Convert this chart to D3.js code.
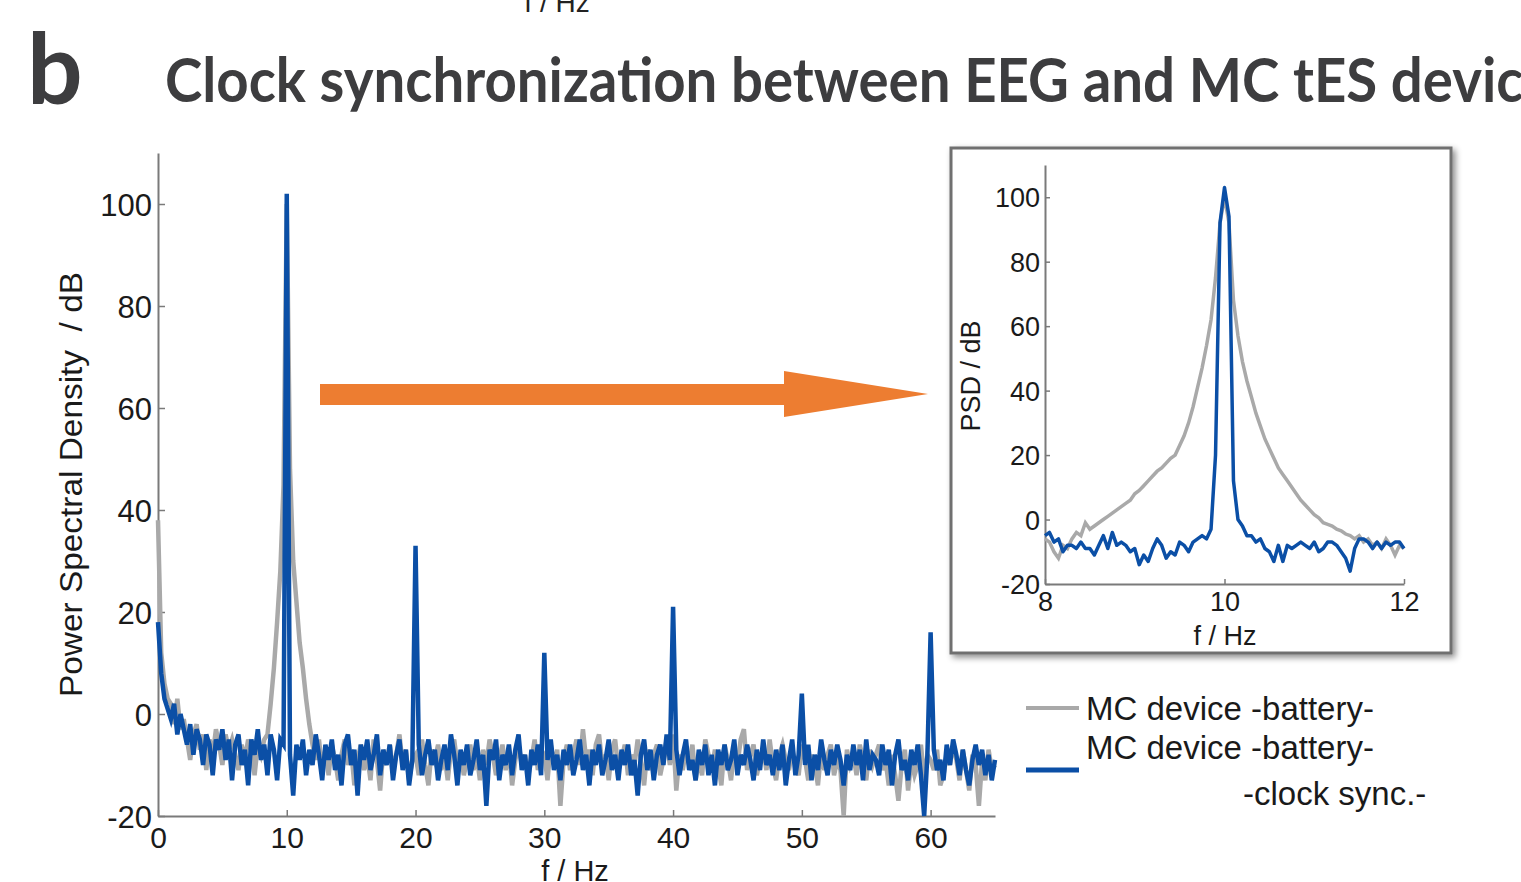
<!DOCTYPE html>
<html>
<head>
<meta charset="utf-8">
<script src="https://cdn.jsdelivr.net/npm/d3@7"></script>
<style>
  html, body { margin: 0; padding: 0; background: #fff; }
  svg { display: block; }
  .tick text { fill: #1a1a1a; }
</style>
</head>
<body>
<svg id="chart" width="1521" height="882"></svg>
<script>
// ---- data ----
// main panel: 0..65 Hz, 0.25 Hz bins, PSD in dB
const mainStep = 0.25;
const mainBattery = [
  38, 12, 6, 3,   2, -2, 3, -3,   -1, -5, -9, -4,   -2, -7, -4, -11,
  -5, -8, -3, -6,   -10, -4, -7, -5,   -8, -11, -6, -9,   -5, -7, -12, -6,
  -8, -5, -4, 2,   9, 18, 28, 45,   100, 48, 30, 22,   14, 9, 3, -2,
  -6, -9, -5, -11,   -7, -12, -6, -9,   -13, -8, -5, -10,   -7, -14, -9, -6,
  -11, -8, -13, -5,   -9, -15, -7, -10,   -6, -11, -8, -4,   -10, -7, -13, -9,
  -8, -12, -5, -10,   -14, -7, -9, -6,   -11, -8, -13, -7,   -5, -10, -8, -12,
  -9, -6, -11, -8,   -13, -7, -10, -5,   -8, -12, -9, -6,   -11, -7, -14, -9,
  -6, -10, -8, -12,   -9, -5, -11, -7,   -8, -13, -6, -10,   -7, -18, -9, -6,
  -11, -8, -5, -10,   -3, -9, -7, -12,   -6, -4, -10, -8,   -13, -7, -5, -11,
  -9, -6, -12, -8,   -10, -5, -9, -14,   -7, -11, -8, -6,   -12, -9, -5, -10,
  -4, -15, -8, -11,   -7, -10, -6, -13,   -9, -12, -5, -8,   -11, -7, -10, -14,
  -6, -9, -13, -7,   -10, -5, -3, -11,   -8, -6, -12, -9,   -7, -11, -5, -10,
  -13, -8, -6, -9,   -11, -7, -10, -12,   -6, -9, -13, -8,   -10, -14, -7, -11,
  -8, -6, -12, -9,   -11, -20, -7, -10,   -8, -12, -6, -9,   -13, -7, -10, -8,
  -6, -11, -9, -14,   -8, -12, -17, -10,   -7, -15, -9, -12,   -10, -6, -13, -8,
  -9, -11, -7, -14,   -12, -8, -10, -6,   -9, -13, -7, -11,   -15, -8, -10, -18,
  -9, -13, -7, -11,   -10
];
const mainClockSync = [
  18, 8, 3, 1,   -1, 2, -4, 0,   -3, -6, -2, -8,   -3, -5, -10, -4,
  -6, -12, -5, -7,   -3, -9, -5, -13,   -6, -4, -10, -7,   -14, -5, -8, -3,
  -9, -6, -12, -4,   -7, -13, -5, -6,   102, -8, -16, -6,   -9, -5, -12, -7,
  -10, -4, -8, -13,   -6, -9, -5, -11,   -8, -14, -6, -4,   -10, -7, -16, -6,
  -9, -5, -11, -8,   -4, -12, -7, -10,   -6, -13, -8, -5,   -11, -7, -14, -9,
  33, -6, -12, -8,   -5, -10, -7, -13,   -9, -6, -11, -4,   -8, -14, -7, -10,
  -6, -12, -9, -5,   -11, -8, -18, -7,   -9, -5, -13, -8,   -10, -6, -12, -7,
  -4, -11, -8, -14,   -7, -10, -6, -12,   12, -9, -5, -11,   -8, -13, -7, -10,
  -6, -12, -9, -5,   -11, -8, -14, -7,   -10, -6, -12, -9,   -5, -11, -8, -13,
  -7, -10, -6, -12,   -9, -16, -8, -5,   -11, -7, -13, -8,   -6, -10, -4, -9,
  21, -7, -12, -8,   -5, -11, -9, -13,   -7, -10, -6, -12,   -8, -14, -7, -10,
  -6, -11, -9, -5,   -12, -8, -10, -6,   -9, -13, -7, -11,   -5, -10, -8, -12,
  -7, -11, -6, -14,   -9, -5, -12, -8,   4, -10, -6, -13,   -8, -11, -5, -9,
  -12, -7, -10, -6,   -9, -14, -8, -11,   -6, -10, -7, -13,   -5, -11, -8, -9,
  -12, -6, -10, -7,   -14, -8, -5, -11,   -9, -13, -7, -10,   -6, -12, -20, -8,
  16, -7, -11, -9,   -13, -6, -10, -5,   -8, -12, -7, -11,   -14, -9, -6, -10,
  -7, -12, -8, -13,   -9
];

// inset: 8..12 Hz, 0.05 Hz bins
const insetStep = 0.05;
const insetBattery = [
  -6, -7, -10, -12, -8, -9, -6, -4, -5, -1,
  -3, -2, -1, 0, 1, 2, 3, 4, 5, 6,
  8, 9, 10.5, 12, 13.5, 15, 16, 17.5, 19, 20,
  23, 26, 30, 35, 41, 47, 54, 62, 75, 92,
  100, 92, 68, 57, 49, 43, 38, 33, 29, 25,
  22, 19, 16, 14, 12, 10, 8, 6, 4.5, 3,
  1.5, 0.5, -1, -1.5, -2, -3, -3.5, -4.5, -5, -6,
  -5, -7, -6, -8, -7, -9, -6, -8, -11, -8,
  -9
];
const insetClockSync = [
  -5, -4, -7, -6, -10, -8, -8, -9, -7, -9,
  -9, -11, -8, -5, -9, -4, -8, -7, -8, -10,
  -9, -14, -11, -13, -9, -6, -8, -12, -10, -11,
  -7, -8, -10, -7, -6, -5, -6, -3, 20, 92,
  103, 94, 12, 0, -2, -5, -5, -7, -6, -9,
  -10, -13, -8, -13, -8, -9, -8, -7, -8, -9,
  -7, -10, -9, -7, -7, -8, -10, -12, -16, -9,
  -6, -6, -7, -9, -7, -9, -7, -8, -7, -7,
  -9
];

const mainXTicks = [0, 10, 20, 30, 40, 50, 60];
const insetXTicks = [8, 10, 12];
const yTicks = [-20, 0, 20, 40, 60, 80, 100];
const seriesNames = ['MC device -battery-', 'MC device -battery-', '-clock sync.-'];

const GRAY = '#a9a9a9';
const BLUE = '#0b4fa6';
const AXIS = '#7a7a7a';
const FONT = 'Liberation Sans, Arial, sans-serif';
const plain = d => String(d); // hyphen minus, no decimals, like the original

const svg = d3.select('#chart');

const defs = svg.append('defs');
const shadow = defs.append('filter').attr('id', 'boxShadow')
  .attr('x', '-5%').attr('y', '-5%').attr('width', '115%').attr('height', '115%');
shadow.append('feDropShadow')
  .attr('dx', 3).attr('dy', 3).attr('stdDeviation', 3)
  .attr('flood-color', '#000').attr('flood-opacity', 0.45);

// stray label from the panel above
svg.append('text')
  .attr('x', 557).attr('y', 12)
  .attr('text-anchor', 'middle')
  .attr('font-family', FONT).attr('font-size', 28)
  .attr('fill', '#222')
  .text('f / Hz');

// panel letter + title
svg.append('text')
  .attr('x', 27).attr('y', 104)
  .attr('font-family', 'Lato, Open Sans, sans-serif')
  .attr('font-weight', 700).attr('font-size', 98)
  .attr('fill', '#3d3d3f')
  .text('b');
svg.append('text')
  .attr('x', 165).attr('y', 102)
  .attr('font-family', 'Lato, Open Sans, sans-serif')
  .attr('font-weight', 700).attr('font-size', 62)
  .attr('fill', '#3d3d3f')
  .attr('textLength', 1388).attr('lengthAdjust', 'spacingAndGlyphs')
  .text('Clock synchronization between EEG and MC tES device');

// ---------- main panel ----------
const x = d3.scaleLinear().domain([0, 65]).range([158, 995]);
const y = d3.scaleLinear().domain([-20, 110]).range([816, 153]);

function styleAxis(g) {
  g.select('.domain').attr('stroke', AXIS).attr('stroke-width', 2);
  g.selectAll('.tick line').attr('stroke', AXIS).attr('stroke-width', 1.5);
  g.selectAll('.tick text').attr('font-family', FONT);
}

svg.append('g')
  .attr('transform', `translate(0,${y(-20)})`)
  .call(d3.axisBottom(x).tickValues(mainXTicks).tickFormat(plain)
    .tickSizeInner(-6).tickSizeOuter(0).tickPadding(11))
  .call(styleAxis)
  .call(g => g.selectAll('.tick text').attr('font-size', 30));

svg.append('g')
  .attr('transform', `translate(${x(0)},0)`)
  .call(d3.axisLeft(y).tickValues(yTicks).tickFormat(plain)
    .tickSizeInner(-7).tickSizeOuter(0).tickPadding(6))
  .call(styleAxis)
  .call(g => g.selectAll('.tick text').attr('font-size', 31).attr('dy', '0.36em'));

const mainLine = d3.line()
  .x((d, i) => x(i * mainStep))
  .y(d => y(d));

svg.append('path')
  .datum(mainBattery)
  .attr('fill', 'none').attr('stroke', GRAY).attr('stroke-width', 4.5)
  .attr('d', mainLine);
svg.append('path')
  .datum(mainClockSync)
  .attr('fill', 'none').attr('stroke', BLUE).attr('stroke-width', 4.5)
  .attr('d', mainLine);

svg.append('text')
  .attr('transform', `translate(82,${(y(110) + y(-20)) / 2}) rotate(-90)`)
  .attr('text-anchor', 'middle')
  .attr('font-family', FONT).attr('font-size', 31)
  .attr('fill', '#1a1a1a')
  .attr('textLength', 425).attr('lengthAdjust', 'spacingAndGlyphs')
  .attr('xml:space', 'preserve')
  .text('Power Spectral Density  / dB');

svg.append('text')
  .attr('x', 575).attr('y', 881)
  .attr('text-anchor', 'middle')
  .attr('font-family', FONT).attr('font-size', 29)
  .attr('fill', '#1a1a1a')
  .text('f / Hz');

// orange arrow
const arrow = d3.path();
arrow.moveTo(320, 384);
arrow.lineTo(784, 384);
arrow.lineTo(784, 371);
arrow.lineTo(928, 394);
arrow.lineTo(784, 417);
arrow.lineTo(784, 405);
arrow.lineTo(320, 405);
arrow.closePath();
svg.append('path').attr('d', arrow.toString()).attr('fill', '#ed7d31');

// ---------- inset ----------
svg.append('rect')
  .attr('x', 951).attr('y', 148).attr('width', 500).attr('height', 505)
  .attr('fill', '#fff').attr('stroke', '#6f6f6f').attr('stroke-width', 3)
  .attr('filter', 'url(#boxShadow)');

const xi = d3.scaleLinear().domain([8, 12]).range([1045, 1404]);
const yi = d3.scaleLinear().domain([-20, 110]).range([584, 165]);

svg.append('g')
  .attr('transform', `translate(0,${yi(-20)})`)
  .call(d3.axisBottom(xi).tickValues(insetXTicks).tickFormat(plain)
    .tickSizeInner(-5).tickSizeOuter(0).tickPadding(8))
  .call(styleAxis)
  .call(g => g.selectAll('.tick text').attr('font-size', 27));

svg.append('g')
  .attr('transform', `translate(${xi(8)},0)`)
  .call(d3.axisLeft(yi).tickValues(yTicks).tickFormat(plain)
    .tickSizeInner(-5).tickSizeOuter(0).tickPadding(5))
  .call(styleAxis)
  .call(g => g.selectAll('.tick text').attr('font-size', 27).attr('dy', '0.36em'));

const insetLine = d3.line()
  .x((d, i) => xi(8 + i * insetStep))
  .y(d => yi(d));

svg.append('path')
  .datum(insetBattery)
  .attr('fill', 'none').attr('stroke', GRAY).attr('stroke-width', 3.5)
  .attr('d', insetLine);
svg.append('path')
  .datum(insetClockSync)
  .attr('fill', 'none').attr('stroke', BLUE).attr('stroke-width', 3.5)
  .attr('stroke-linejoin', 'round')
  .attr('d', insetLine);

svg.append('text')
  .attr('transform', 'translate(980,376) rotate(-90)')
  .attr('text-anchor', 'middle')
  .attr('font-family', FONT).attr('font-size', 27)
  .attr('fill', '#1a1a1a')
  .text('PSD / dB');

svg.append('text')
  .attr('x', 1225).attr('y', 645)
  .attr('text-anchor', 'middle')
  .attr('font-family', FONT).attr('font-size', 27)
  .attr('fill', '#1a1a1a')
  .text('f / Hz');

// ---------- legend ----------
const legend = svg.append('g').attr('font-family', FONT).attr('font-size', 33).attr('fill', '#1a1a1a');
legend.append('line')
  .attr('x1', 1026).attr('x2', 1079).attr('y1', 708).attr('y2', 708)
  .attr('stroke', GRAY).attr('stroke-width', 4);
legend.append('line')
  .attr('x1', 1026).attr('x2', 1079).attr('y1', 770).attr('y2', 770)
  .attr('stroke', BLUE).attr('stroke-width', 5);
legend.append('text').attr('x', 1086).attr('y', 720).text(seriesNames[0]);
legend.append('text').attr('x', 1086).attr('y', 759).text(seriesNames[1]);
legend.append('text').attr('x', 1243).attr('y', 805).text(seriesNames[2]);
</script>
</body>
</html>
